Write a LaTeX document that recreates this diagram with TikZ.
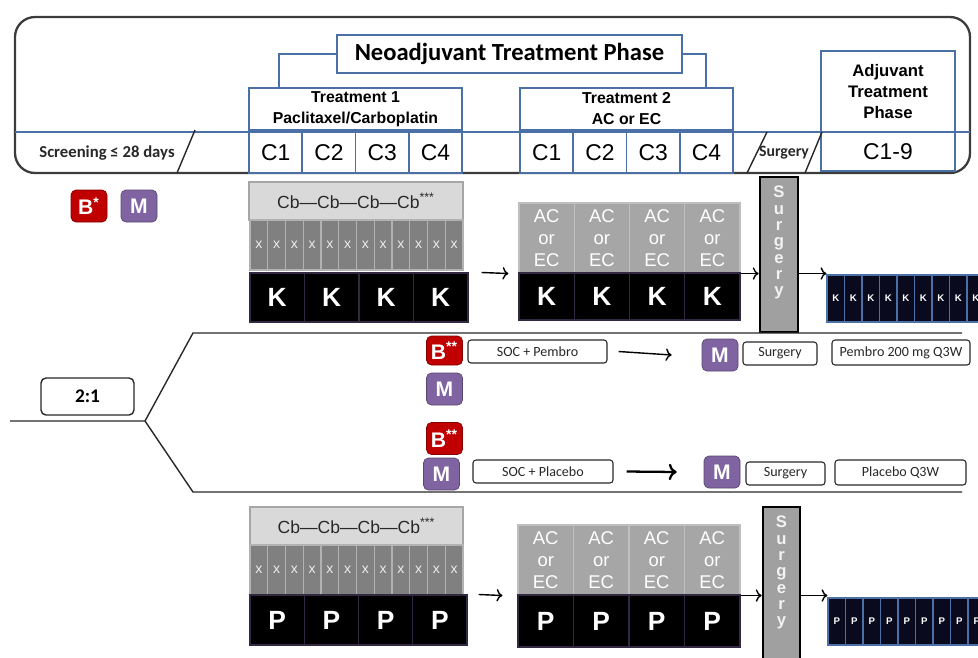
\documentclass[tikz,border=0pt]{standalone}
\usepackage{fontspec}
\setmainfont{Liberation Sans}
\newfontfamily\calibri{Carlito}
\usepackage{tikz}
\usetikzlibrary{arrows.meta}

\definecolor{phaseblue}{RGB}{74,112,165}
\definecolor{framedark}{RGB}{60,60,60}
\definecolor{bred}{RGB}{192,0,0}
\definecolor{mpurple}{RGB}{128,100,162}
\definecolor{cbgray}{RGB}{217,217,217}
\definecolor{xgray}{RGB}{128,128,128}
\definecolor{acgray}{RGB}{166,166,166}
\definecolor{surggray}{RGB}{160,160,160}
\definecolor{stripnavy}{RGB}{10,10,30}
\definecolor{darktext}{RGB}{40,40,40}

\tikzset{
  phasebox/.style={draw=phaseblue, line width=1.2pt, fill=white, inner sep=0pt, align=center},
  treatbox/.style={phasebox, minimum width=42.6mm, minimum height=8.4mm,
    font=\bfseries\fontsize{9}{12}\selectfont},
  cyclebox/.style={draw=phaseblue, line width=1pt, fill=white, minimum width=10.65mm,
    minimum height=8.2mm, inner sep=0pt, font=\fontsize{13}{13}\selectfont},
  marker/.style={rounded corners=1mm, minimum width=7.2mm, minimum height=6.4mm, inner sep=0pt,
    text=white, font=\bfseries\fontsize{12}{12}\selectfont},
  bmark/.style={marker, fill=bred, draw=bred!70!black},
  mmark/.style={marker, fill=mpurple, draw=mpurple!70!black},
  cbbox/.style={fill=cbgray, draw=acgray, line width=1pt, minimum width=42.8mm,
    minimum height=7.6mm, inner sep=0pt, font=\fontsize{10}{10}\selectfont, text=darktext},
  xcell/.style={fill=xgray, draw=gray!60, line width=0.7pt, minimum width=3.55mm,
    minimum height=10mm, inner sep=0pt, text=white!85!gray, font=\fontsize{8}{8}\selectfont},
  drugbox/.style={fill=black, draw=black!60!mpurple, line width=0.6pt, minimum width=10.9mm,
    minimum height=9.8mm, inner sep=0pt, text=white, font=\bfseries\fontsize{15}{15}\selectfont},
  accell/.style={fill=acgray, draw=gray!50, line width=0.6pt, minimum width=11.05mm,
    minimum height=14mm, inner sep=0pt, align=center, text=white,
    font=\fontsize{10.5}{12.5}\selectfont},
  surgbar/.style={fill=surggray, draw=black, line width=1.5pt, minimum width=7.6mm, inner sep=0pt},
  surgtext/.style={align=center, inner sep=0pt, text=white!90!gray,
    font=\bfseries\fontsize{9.5}{9.3}\selectfont},
  stripcell/.style={fill=stripnavy, draw=phaseblue, line width=0.6pt, minimum width=3.5mm,
    minimum height=9.4mm, inner sep=0pt, text=white, font=\bfseries\fontsize{5.5}{5.5}\selectfont},
  socbox/.style={draw=darktext, rounded corners=0.6mm, line width=0.6pt, minimum height=4.6mm,
    inner sep=0pt, text=darktext, font=\calibri\fontsize{8}{8}\selectfont},
  ratiobox/.style={draw=darktext, rounded corners=1mm, line width=0.8pt, minimum width=18.6mm,
    minimum height=7.4mm, inner sep=0pt, font=\calibri\bfseries\fontsize{11}{11}\selectfont},
  armline/.style={draw=darktext, line width=0.8pt},
  flow/.style={->, line width=0.8pt}
}

\begin{document}
\begin{tikzpicture}[x=0.2mm, y=-0.2mm]
\useasboundingbox (0,0) rectangle (978,657);

% Header: phases and cycles
\draw[framedark, line width=1.3pt, rounded corners=4mm] (15,17) rectangle (970,173);
\draw[phaseblue, line width=1.5pt] (15,132) -- (970,132);

\node[phasebox, minimum width=69mm, minimum height=7.6mm,
  font=\calibri\bfseries\fontsize{14}{16}\selectfont] (neo) at (509.5,54) {Neoadjuvant Treatment Phase};
\node[treatbox] (trt1) at (355.5,109) {Treatment 1\\Paclitaxel/Carboplatin};
\node[treatbox] (trt2) at (626.5,109) {Treatment 2\\AC or EC};
\draw[phaseblue, line width=1.2pt] (neo.west) -| ([xshift=6.2mm]trt1.north west);
\draw[phaseblue, line width=1.2pt] (neo.east) -| ([xshift=-5.6mm]trt2.north east);

\foreach \i in {1,...,4} {
  \node[cyclebox] (ca\i) at ({249+53.25*(\i-0.5)},152.5) {C\i};
  \node[cyclebox] (cb\i) at ({520+53.25*(\i-0.5)},152.5) {C\i};
}

\node[phasebox, minimum width=26.8mm, minimum height=16.2mm,
  font=\bfseries\fontsize{9.5}{12}\selectfont] (adj) at (888,91.5) {Adjuvant\\Treatment\\Phase};
\node[cyclebox, minimum width=26.8mm, minimum height=7.8mm] (adjc) at (888,151.5) {C1-9};

\node[font=\calibri\bfseries\fontsize{9.5}{11}\selectfont, text=darktext] (scr) at (107,153) {Screening ≤ 28 days};
\draw[darktext, line width=0.8pt] (177,173) -- (195,130);
\node[font=\calibri\bfseries\fontsize{9}{11}\selectfont, text=darktext] (surghd) at (784,153) {Surgery};
\draw[darktext, line width=0.8pt] (747,173) -- (767,132);
\draw[darktext, line width=0.8pt] (805,173) -- (822,132);

% Pembrolizumab arm schema
\node[bmark] (b0) at (89,206) {B\textsuperscript{*}};
\node[mmark] (m0) at (139,206) {M};

\node[cbbox] (cbk) at (356,201) {Cb—Cb—Cb—Cb\textsuperscript{***}};
\foreach \i in {1,...,12}
  \node[xcell] (xk\i) at ({250+17.75*(\i-0.5)},245) {x};
\foreach \i in {1,...,4}
  \node[drugbox] (k\i) at ({250+54.5*(\i-0.5)},297.5) {K};

\foreach \i in {1,...,4} {
  \node[accell] (ack\i) at ({519+55.25*(\i-0.5)},238) {AC\\or\\EC};
  \node[drugbox, minimum width=11.05mm, minimum height=9.4mm] (kk\i) at ({519+55.25*(\i-0.5)},296.5) {K};
}

\node[surgbar, minimum height=31mm] (surgk) at (779,254.5) {};
\node[surgtext, anchor=north] (surgktxt) at ([yshift=-2mm]surgk.north) {S\\u\\r\\g\\e\\r\\y};

\foreach \i in {1,...,9}
  \node[stripcell] (ks\i) at ({827+17.5*(\i-0.5)},298.5) {K};

\draw[flow] ([xshift=2.6mm]k4.north east) -- ([xshift=-2mm]ack1.south west);
\draw[flow] (ack4.south east) -- (ack4.south east -| surgk.west);
\draw[flow] (ack4.south east -| surgk.east) -- (ack4.south east -| ks1.west);

% Randomisation
\coordinate (rin) at (10,421);
\coordinate (rsplit) at (145,421);
\coordinate (armAstart) at (193,333);
\coordinate (armAend) at (962,333);
\coordinate (armBstart) at (193,492);
\coordinate (armBend) at (962,492);
\draw[armline] (rin) -- (rsplit) -- (armAstart) -- (armAend);
\draw[armline] (rsplit) -- (armBstart) -- (armBend);
\node[ratiobox] (ratio) at (87.5,396.5) {2:1};

% Arm A
\node[bmark, minimum height=5.8mm] (b1) at (444.5,350.5) {B\textsuperscript{**}};
\node[mmark] (m1) at (444.5,389) {M};
\node[socbox, minimum width=27.8mm] (socA) at (537.5,351.5) {SOC + Pembro};
\node[mmark] (m2) at (720,355) {M};
\node[socbox, minimum width=14.8mm] (surgA) at (780,353.5) {Surgery};
\node[socbox, minimum width=27.6mm, minimum height=5mm] (adjA) at (901,352.5) {Pembro 200 mg Q3W};
\draw[flow] ([xshift=2.2mm]socA.east) -- ([xshift=-6mm]m2.west);

% Arm B
\node[bmark] (b2) at (444.5,438.5) {B\textsuperscript{**}};
\node[mmark] (m3) at (441.5,474) {M};
\node[socbox, minimum width=28mm] (socB) at (543,471.5) {SOC + Placebo};
\node[mmark] (m4) at (722,472) {M};
\node[socbox, minimum width=15.8mm] (surgB) at (785.5,473.5) {Surgery};
\node[socbox, minimum width=26.2mm, minimum height=5mm] (adjB) at (900.5,472.5) {Placebo Q3W};
\draw[flow, line width=1.3pt] ([xshift=2.6mm]socB.east) -- ([xshift=-5.4mm]m4.west);

% Placebo arm schema
\node[cbbox, minimum width=42.6mm] (cbp) at (356.5,526) {Cb—Cb—Cb—Cb\textsuperscript{***}};
\foreach \i in {1,...,12}
  \node[xcell] (xp\i) at ({250+17.75*(\i-0.5)},570) {x};
\foreach \i in {1,...,4}
  \node[drugbox, minimum width=10.85mm, minimum height=10mm] (p\i) at ({250+54.25*(\i-0.5)},620) {P};

\foreach \i in {1,...,4} {
  \node[accell, minimum width=11.1mm] (acp\i) at ({518+55.5*(\i-0.5)},560) {AC\\or\\EC};
  \node[drugbox, minimum width=11.1mm, minimum height=10.4mm] (pp\i) at ({518+55.5*(\i-0.5)},621) {P};
}

\node[surgbar, minimum width=7.4mm, minimum height=33.2mm] (surgp) at (781.5,590) {};
\node[surgtext, anchor=north] (surgptxt) at ([yshift=-2mm]surgp.north) {S\\u\\r\\g\\e\\r\\y};

\foreach \i in {1,...,9}
  \node[stripcell] (ps\i) at ({828+17.5*(\i-0.5)},621.5) {P};

\draw[flow] ([xshift=2.2mm]p4.north east) -- ([xshift=-3mm]acp1.south west);
\draw[flow] (acp4.south east) -- (acp4.south east -| surgp.west);
\draw[flow] (acp4.south east -| surgp.east) -- (acp4.south east -| ps1.west);
\end{tikzpicture}
\end{document}
